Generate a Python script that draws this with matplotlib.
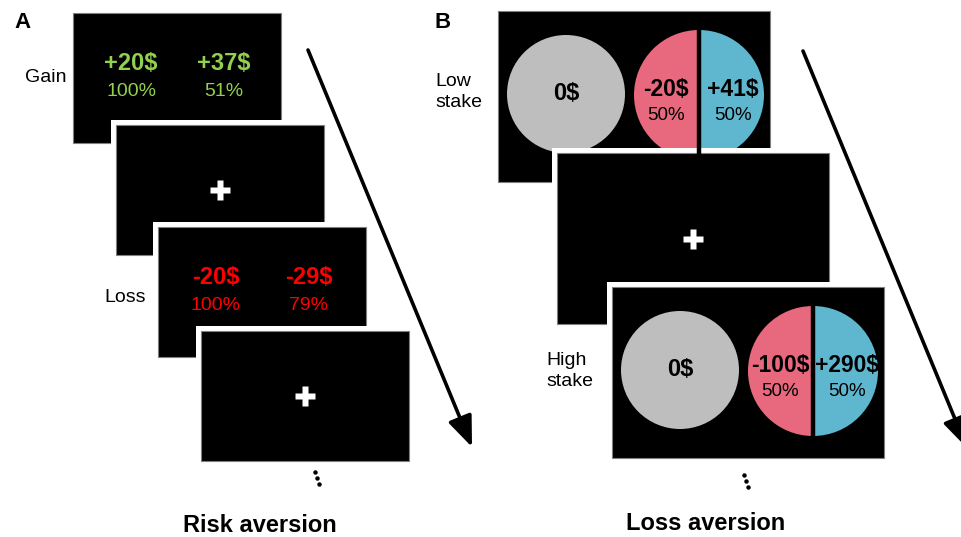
import matplotlib.pyplot as plt
from matplotlib.patches import Rectangle, Circle, Wedge, FancyArrowPatch

plt.rcParams['font.family'] = ['Liberation Sans', 'DejaVu Sans']

# trial content
gain_amounts = ['+20$', '+37$']
gain_probs = ['100%', '51%']
loss_amounts = ['-20$', '-29$']
loss_probs = ['100%', '79%']
low_amounts = ['-20$', '+41$']
high_amounts = ['-100$', '+290$']
mixed_probs = ['50%', '50%']
sure_amount = '0$'

GREEN = '#92D050'
RED = '#FF0000'
PINK = '#E8697D'
BLUE = '#5FB7CF'
GREY = '#BEBEBE'

fig = plt.figure(figsize=(9.61, 5.37), dpi=100)
ax = fig.add_axes([0, 0, 1, 1])
ax.set_xlim(0, 961)
ax.set_ylim(537, 0)
ax.axis('off')


def screen(x, y, w, h, pad=True):
    if pad:
        ax.add_patch(Rectangle((x - 5, y - 5), w + 10, h + 10, fc='white', ec='none'))
    ax.add_patch(Rectangle((x, y), w, h, fc='black', ec='#7F7F7F', lw=0.8))


def cross(x, y):
    ax.plot([x], [y], marker='P', ms=15, color='white', mec='none')


def dots(x, y):
    ax.plot([x - 2, x, x + 2], [y - 6, y, y + 6], ls='none', marker='o',
            ms=2.2, color='black')


# ---------------- panel A ----------------
aw, ah = 208, 130
a_pos = [(73, 13), (116, 125), (158, 227), (201, 331)]
for i, (x, y) in enumerate(a_pos):
    screen(x, y, aw, ah, pad=i > 0)
    if i in (0, 2):
        amounts, probs, col = (gain_amounts, gain_probs, GREEN) if i == 0 else (loss_amounts, loss_probs, RED)
        for j in range(2):
            cx = x + 58 + j * 93
            ax.text(cx, y + 51, amounts[j], color=col, fontsize=17, fontweight='bold',
                    ha='center', va='center')
            ax.text(cx, y + 78, probs[j], color=col, fontsize=14, ha='center', va='center')
    else:
        cross(x + aw / 2, y + ah / 2)

ax.text(67, 77, 'Gain', fontsize=14, ha='right', va='center')
ax.text(146, 298, 'Loss', fontsize=14, ha='right', va='center')
ax.text(14, 22, 'A', fontsize=16, fontweight='bold', ha='left', va='center')
dots(317, 478)
ax.text(260, 526, 'Risk aversion', fontsize=17, fontweight='bold', ha='center', va='center')

# ---------------- panel B ----------------
bw, bh = 272, 171
b_pos = [(498, 11), (557, 153), (612, 287)]
for i, (x, y) in enumerate(b_pos):
    screen(x, y, bw, bh, pad=i > 0)
    if i == 1:
        cross(x + bw / 2, y + bh / 2)
        continue
    amounts = low_amounts if i == 0 else high_amounts
    gx, gy = x + 68, y + 83
    ax.add_patch(Circle((gx, gy), 59, fc=GREY, ec='none'))
    ax.text(gx, gy, sure_amount, fontsize=17, fontweight='bold', ha='center', va='center')
    sx, sy = x + 201, y + 84
    ax.add_patch(Wedge((sx, sy), 65, 90, 270, fc=PINK, ec='none'))
    ax.add_patch(Wedge((sx, sy), 65, 270, 90, fc=BLUE, ec='none'))
    ax.plot([sx, sx], [sy - 66, sy + 66], color='black', lw=3.2)
    for j, off in enumerate((-33, 34)):
        ax.text(sx + off, y + 79, amounts[j], fontsize=16.5, fontweight='bold',
                ha='center', va='center')
        ax.text(sx + off, y + 105, mixed_probs[j], fontsize=13.5, ha='center', va='center')

ax.text(435, 92, 'Low\nstake', fontsize=14, ha='left', va='center', linespacing=1.25)
ax.text(546, 371, 'High\nstake', fontsize=14, ha='left', va='center', linespacing=1.25)
ax.text(435, 22, 'B', fontsize=16, fontweight='bold', ha='left', va='center')
dots(746, 481)
ax.text(706, 524, 'Loss aversion', fontsize=17, fontweight='bold', ha='center', va='center')

# time arrows
for (x0, y0), (x1, y1) in [((308, 50), (472, 447)), ((803, 51), (967, 448))]:
    ax.add_patch(FancyArrowPatch((x0, y0), (x1, y1),
                                 arrowstyle='-|>,head_length=0.75,head_width=0.3',
                                 mutation_scale=25, lw=2.6, color='black',
                                 shrinkA=0, shrinkB=0))

fig.savefig('out.png', dpi=100)
